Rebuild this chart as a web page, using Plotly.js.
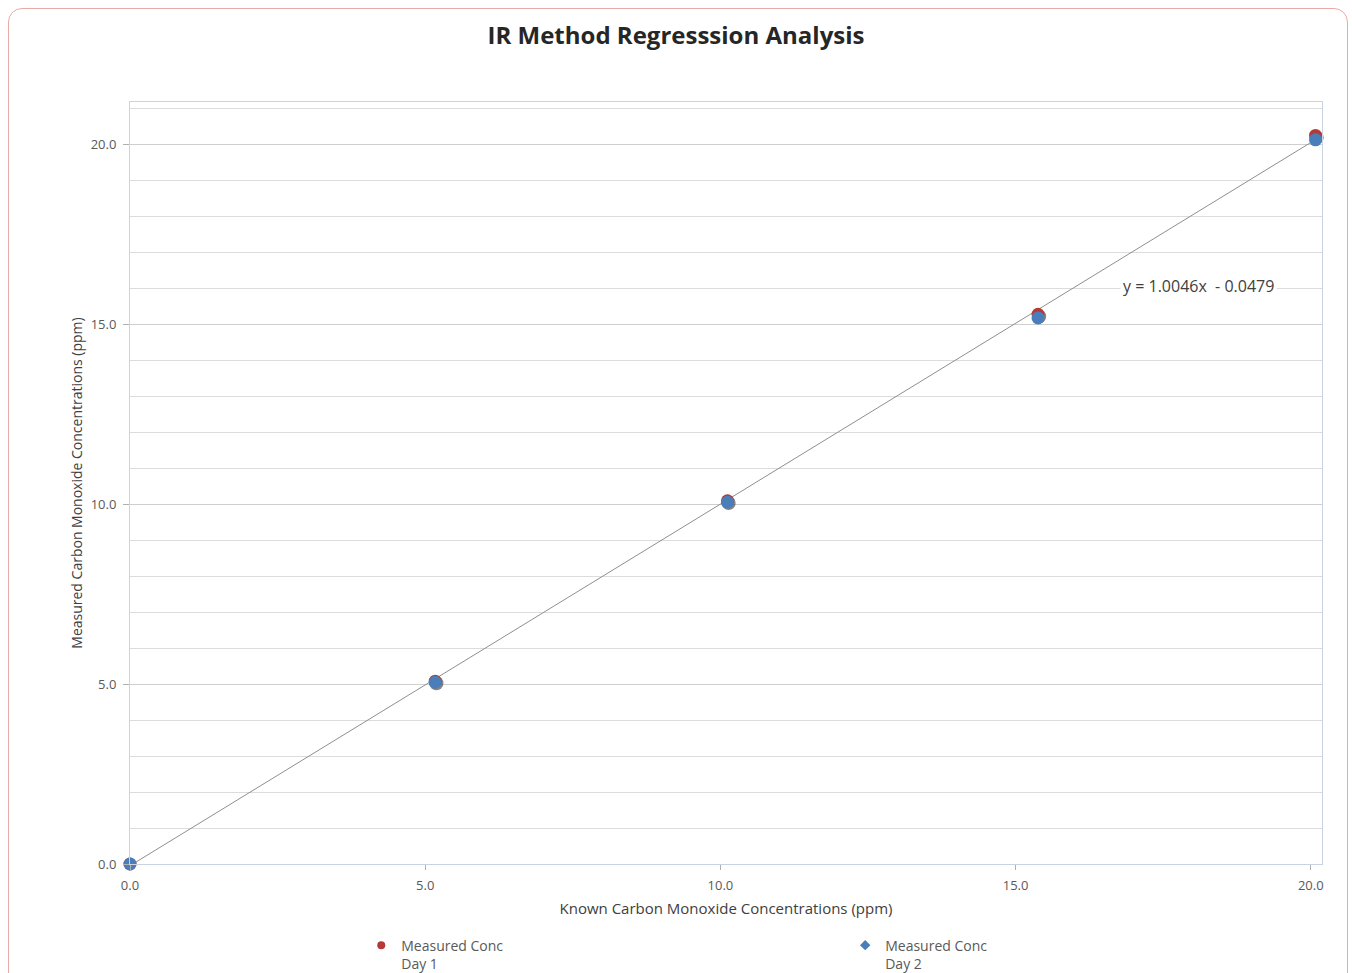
<!DOCTYPE html>
<html>
<head>
<meta charset="utf-8">
<script src="https://cdn.plot.ly/plotly-3.0.1.min.js"></script>
<style>
  html, body { margin: 0; padding: 0; background: #ffffff; width: 1352px; height: 973px; overflow: hidden; }
  #frame { position: absolute; left: 8px; top: 8px; width: 1340px; height: 990px; border: 1px solid #e9a9a6; border-radius: 14px; box-sizing: border-box; }
  #chart { position: absolute; left: 0; top: 0; width: 1352px; height: 973px; }
</style>
</head>
<body>
<div id="frame"></div>
<div id="chart"></div>
<script>
// Known concentrations (ppm)
const knownConc = [0.0, 5.17, 10.12, 15.38, 20.08];
// Measured concentrations, Day 1 and Day 2 (ppm)
const measuredDay1 = [0.0, 5.08, 10.09, 15.27, 20.24];
const measuredDay2 = [0.0, 5.05, 10.05, 15.17, 20.12];
// Trendline from the chart's equation
const slope = 1.0046;
const intercept = -0.0479;
const trendX = [0.0, 20.08];
const trendY = trendX.map(x => slope * x + intercept);
const equationText = "y = 1.0046x  - 0.0479";
const xTicks = [0, 5, 10, 15, 20];
const yTicks = [0, 5, 10, 15, 20];
const tickText = ["0.0", "5.0", "10.0", "15.0", "20.0"];
const seriesNames = ["Measured Conc<br>Day 1", "Measured Conc<br>Day 2"];

const FONT = "'Open Sans', 'Noto Sans', sans-serif";
const red = "#b33a38";
const blue = "#4a7ebb";

const traces = [
  { x: trendX, y: trendY, mode: "lines", line: { color: "#8f8f8f", width: 1 }, showlegend: false, hoverinfo: "skip", cliponaxis: false },
  // marker shadows
  { x: knownConc, y: measuredDay1, mode: "markers", marker: { color: "rgba(40,30,30,0.55)", size: 14, symbol: "circle" }, showlegend: false, hoverinfo: "skip", cliponaxis: false },
  { x: knownConc, y: measuredDay1, name: seriesNames[0], mode: "markers",
    marker: { color: red, size: 13, symbol: "circle" }, showlegend: false, cliponaxis: false },
  { x: knownConc, y: measuredDay2, name: seriesNames[1], mode: "markers",
    marker: { color: blue, size: 13, symbol: "circle" }, showlegend: false, cliponaxis: false },
  // legend entries
  { x: [null], y: [null], name: seriesNames[0], mode: "markers", marker: { color: red, size: 8, symbol: "circle" }, legend: "legend" },
  { x: [null], y: [null], name: seriesNames[1], mode: "markers", marker: { color: blue, size: 8, symbol: "diamond" }, legend: "legend2" }
];
traces[1].y = measuredDay1.map(v => v - 0.06);
traces[1].x = knownConc.map(v => v + 0.02);

const legendFont = { family: FONT, size: 14, color: "#595959" };
const layout = {
  width: 1352, height: 973,
  paper_bgcolor: "rgba(0,0,0,0)",
  plot_bgcolor: "#ffffff",
  margin: { l: 130, r: 30, t: 102, b: 109, autoexpand: false },
  font: { family: FONT, color: "#595959", size: 13 },
  title: { text: "<b>IR Method Regresssion Analysis</b>", x: 0.5, xanchor: "center", y: 0.963, yanchor: "middle",
           font: { family: FONT, size: 24, color: "#262626" } },
  xaxis: {
    range: [0, 20.19], tickvals: xTicks, ticktext: tickText,
    showgrid: false, zeroline: false,
    showline: true, linecolor: "#c9d3e2", linewidth: 1, mirror: true,
    ticks: "outside", ticklen: 5, tickcolor: "#b0b0b0", ticklabelstandoff: 4,
    tickfont: { family: FONT, size: 13, color: "#595959" },
    title: { text: "Known Carbon Monoxide Concentrations (ppm)", standoff: 10, font: { family: FONT, size: 15, color: "#404040" } }
  },
  yaxis: {
    range: [0, 21.17], tickvals: yTicks, ticktext: tickText,
    showgrid: true, gridcolor: "#cfcfcf", zeroline: false,
    minor: { dtick: 1, showgrid: true, gridcolor: "#dcdcdc", gridwidth: 1 },
    showline: true, linecolor: "#c9d3e2", linewidth: 1, mirror: true,
    ticks: "outside", ticklen: 6, tickcolor: "#b0b0b0", ticklabelstandoff: 4,
    tickfont: { family: FONT, size: 13, color: "#595959" },
    title: { text: "Measured Carbon Monoxide Concentrations (ppm)", standoff: 4, font: { family: FONT, size: 14, color: "#404040" } }
  },
  annotations: [
    { x: 18.09, y: 16.05, xref: "x", yref: "y", text: equationText, showarrow: false,
      font: { family: FONT, size: 16, color: "#404040" }, bgcolor: "#ffffff", borderpad: 2 }
  ],
  legend: {
    orientation: "h", x: 0.194, xanchor: "left", y: -0.086, yanchor: "top", valign: "top",
    font: legendFont, bgcolor: "rgba(0,0,0,0)", itemwidth: 30
  },
  legend2: {
    orientation: "h", x: 0.6, xanchor: "left", y: -0.086, yanchor: "top", valign: "top",
    font: legendFont, bgcolor: "rgba(0,0,0,0)", itemwidth: 30
  },
  showlegend: true
};

Plotly.newPlot("chart", traces, layout, { displayModeBar: false, staticPlot: true });
</script>
</body>
</html>
